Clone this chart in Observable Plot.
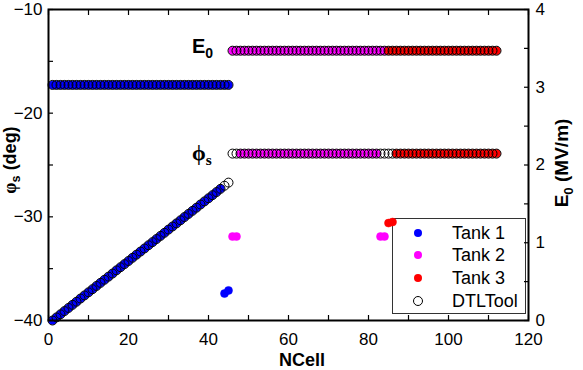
<!DOCTYPE html>
<html><head><meta charset="utf-8">
<script src="https://cdn.jsdelivr.net/npm/d3@7"></script>
<script src="https://cdn.jsdelivr.net/npm/@observablehq/plot@0.6"></script>
<style>
body{margin:0;background:#fff;}
#wrap{position:relative;width:583px;height:370px;overflow:hidden;font-family:"Liberation Sans",Arial,sans-serif;}
#wrap svg{position:relative;z-index:1;}
.lab{position:absolute;font-weight:bold;white-space:nowrap;color:#000;z-index:2;}
.ser{font-family:"Liberation Serif","Times New Roman",serif;}
sub{font-size:0.7em;vertical-align:-0.35em;line-height:0}
#legend{position:absolute;z-index:0;left:392px;top:218px;width:134px;height:96px;border:1px solid #333;background:#fff;box-sizing:border-box;font-size:18px;}
.li{position:absolute;left:0;height:22px;line-height:22px;}
.li span.m{position:absolute;left:21px;top:7px;width:8px;height:8px;border-radius:50%;}
.li span.t{position:absolute;left:59px;top:0;}
</style></head><body><div id="wrap"></div>
<script>
// ---- data ----
const tank1Cells = d3.range(1, 46);
const tank1Phi = [-40.00,-39.70,-39.40,-39.09,-38.79,-38.49,-38.19,-37.88,-37.58,-37.28,
  -36.98,-36.67,-36.37,-36.07,-35.77,-35.47,-35.16,-34.86,-34.56,-34.26,
  -33.95,-33.65,-33.35,-33.05,-32.74,-32.44,-32.14,-31.84,-31.54,-31.23,
  -30.93,-30.63,-30.33,-30.02,-29.72,-29.42,-29.12,-28.81,-28.51,-28.21,
  -27.91,-27.61,-27.30,-37.4,-37.1];
const tank1E0 = 3.03;
const tank2Cells = d3.range(46, 85);
const tank2Phi = [-31.9,-31.9, ...Array(35).fill(-23.9), -31.9,-31.9];
const tank2E0 = 3.47;
const tank3Cells = d3.range(85, 113);
const tank3Phi = [-30.6,-30.5, ...Array(26).fill(-23.9)];
const tank3E0 = 3.47;
const dtlCells = d3.range(1, 113);
const dtlPhi = [-40.00,-39.70,-39.40,-39.09,-38.79,-38.49,-38.19,-37.88,-37.58,-37.28,
  -36.98,-36.67,-36.37,-36.07,-35.77,-35.47,-35.16,-34.86,-34.56,-34.26,
  -33.95,-33.65,-33.35,-33.05,-32.74,-32.44,-32.14,-31.84,-31.54,-31.23,
  -30.93,-30.63,-30.33,-30.02,-29.72,-29.42,-29.12,-28.81,-28.51,-28.21,
  -27.91,-27.61,-27.30,-27.00,-26.70, ...Array(67).fill(-23.9)];
const dtlE0 = [...Array(45).fill(3.03), ...Array(67).fill(3.47)];

const xTicks = [0, 20, 40, 60, 80, 100, 120];
const phiTicks = [-40, -30, -20, -10];
const e0Ticks = [0, 1, 2, 3, 4];
const colors = {t1: "#0000ff", t2: "#ff00ff", t3: "#ff0000"};

// ---- build tables ----
const PHI0 = -40, PHI_PER_E0 = 7.5; // right axis 0..4 MV/m spans left axis -40..-10 deg
const e0y = e => PHI0 + PHI_PER_E0 * e;
const mk = (cells, phi, e0) => cells.map((c, i) => ({cell: c, phi: phi[i], e0: Array.isArray(e0) ? e0[i] : e0}));
const t1 = mk(tank1Cells, tank1Phi, tank1E0);
const t2 = mk(tank2Cells, tank2Phi, tank2E0);
const t3 = mk(tank3Cells, tank3Phi, tank3E0);
const dtl = mk(dtlCells, dtlPhi, dtlE0);

const filled = (data, color) => [
  Plot.dot(data, {x: "cell", y: "phi", r: 4, fill: color, stroke: color, strokeWidth: 0.5}),
  Plot.dot(data, {x: "cell", y: d => e0y(d.e0), r: 4, fill: color, stroke: color, strokeWidth: 0.5})
];

const chart = Plot.plot({
  width: 583, height: 370,
  marginLeft: 48, marginRight: 55, marginTop: 9, marginBottom: 50,
  style: {fontFamily: "Liberation Sans, Arial, sans-serif", fontSize: "17px", background: "transparent"},
  x: {domain: [0, 120]},
  y: {domain: [-40, -10]},
  marks: [
    ...filled(t1, colors.t1),
    ...filled(t2, colors.t2),
    ...filled(t3, colors.t3),
    Plot.dot(dtl, {x: "cell", y: "phi", r: 4.5, stroke: "#000", strokeWidth: 1, fill: "none"}),
    Plot.dot(dtl, {x: "cell", y: d => e0y(d.e0), r: 4.5, stroke: "#000", strokeWidth: 1, fill: "none"}),
    Plot.axisX(xTicks, {anchor: "bottom", tickSize: 0, tickPadding: 12, fontSize: 17, label: null}),
    Plot.axisX(d3.range(0, 121, 10), {anchor: "bottom", tickSize: -5, text: null, label: null, strokeWidth: 1.2}),
    Plot.axisX(d3.range(0, 121, 10), {anchor: "top", tickSize: -5, text: null, label: null, strokeWidth: 1.2}),
    Plot.axisY(phiTicks, {anchor: "left", tickSize: 0, tickPadding: 6, fontSize: 17, label: null}),
    Plot.axisY(d3.range(-40, -9, 5), {anchor: "left", tickSize: -5, text: null, label: null, strokeWidth: 1.2}),
    Plot.axisY(e0Ticks.map(e0y), {anchor: "right", tickSize: 0, tickPadding: 7, fontSize: 17, label: null,
      tickFormat: v => String(Math.round((v - PHI0) / PHI_PER_E0))}),
    Plot.axisY(d3.range(0, 4.01, 0.5).map(e0y), {anchor: "right", tickSize: -5, text: null, label: null, strokeWidth: 1.2}),
    Plot.frame({stroke: "#000", strokeWidth: 2})
  ]
});

const wrap = document.getElementById("wrap");
wrap.appendChild(chart);

function addLab(html, style, cls) {
  const d = document.createElement("div");
  d.className = "lab" + (cls ? " " + cls : "");
  d.innerHTML = html;
  Object.assign(d.style, style);
  wrap.appendChild(d);
  return d;
}
addLab("NCell", {left: "302px", top: "360px", fontSize: "18px", transform: "translate(-50%,-50%)"});
addLab('E<sub>0</sub> (MV/m)', {left: "562px", top: "163px", fontSize: "19px", transform: "translate(-50%,-50%) rotate(-90deg)"});
addLab('<span class="ser">φ</span><sub>s</sub> (deg)', {left: "10px", top: "160px", fontSize: "18px", transform: "translate(-50%,-50%) rotate(-90deg)"});
addLab('E<sub>0</sub>', {left: "192px", top: "35px", fontSize: "20px"});
addLab('ϕ<sub>s</sub>', {left: "192px", top: "140px", fontSize: "22px"}, "ser");

// legend
const leg = document.createElement("div");
leg.id = "legend";
const items = [["Tank 1", colors.t1, true], ["Tank 2", colors.t2, true], ["Tank 3", colors.t3, true], ["DTLTool", "#000", false]];
const rowY = [3, 25, 48, 71];
items.forEach(([name, col, fill], i) => {
  const r = document.createElement("div");
  r.className = "li";
  r.style.top = rowY[i] + "px";
  r.style.width = "100%";
  r.innerHTML = `<span class="m" style="${fill ? `background:${col};` : `border:1px solid #000;box-sizing:border-box;width:10px;height:10px;left:20px;top:6px;`}"></span><span class="t">${name}</span>`;
  leg.appendChild(r);
});
wrap.appendChild(leg);
</script>
</body></html>
